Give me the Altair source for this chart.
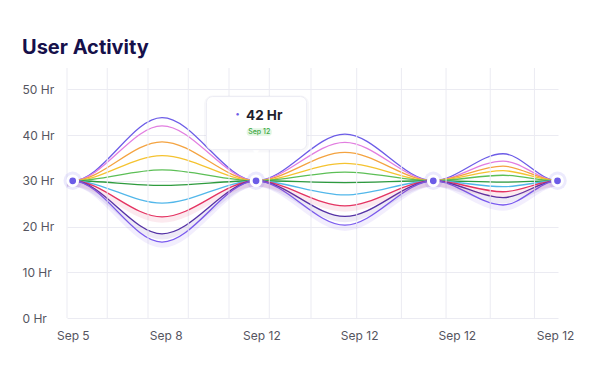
import altair as alt
import pandas as pd

# ---- data ----
# timeline positions: plot edge, the 7 readings, plot edge
x_pos = [0, 1.16, 19.35, 38.5, 56.6, 74.6, 88.8, 99.9, 100]
series_names = ["S1", "S2", "S3", "S4", "S5", "S6", "S7", "S8", "S9", "S10"]
s1 = [30, 30, 43.8, 30, 40.2, 30, 35.9, 30, 30]
s2 = [30, 30, 42.0, 30, 38.4, 30, 34.3, 30, 30]
s3 = [30, 30, 38.5, 30, 36.2, 30, 33.2, 30, 30]
s4 = [30, 30, 35.5, 30, 33.8, 30, 32.2, 30, 30]
s5 = [30, 30, 32.4, 30, 31.9, 30, 31.2, 30, 30]
s6 = [30, 30, 29.0, 30, 29.6, 30, 29.7, 30, 30]
s7 = [30, 30, 25.1, 30, 26.9, 30, 28.7, 30, 30]
s8 = [30, 30, 22.1, 30, 24.5, 30, 27.6, 30, 30]
s9 = [30, 30, 18.4, 30, 22.2, 30, 26.3, 30, 30]
s10 = [30, 30, 16.6, 30, 20.3, 30, 24.7, 30, 30]
series_values = [s1, s2, s3, s4, s5, s6, s7, s8, s9, s10]
series_colors = ["#6c5ce7", "#e27ee0", "#f4a340", "#f5c330", "#5cbf56",
                 "#2e9b3e", "#52b7ea", "#e53563", "#5533a6", "#7b5cf0"]
glow_series = ["S8", "S9", "S10"]

join_index = [1, 3, 5, 7]                 # where all series meet (dots)
tick_pos = [1.18, 20.1, 39.6, 59.5, 79.4, 99.4]
tick_labels = ["Sep 5", "Sep 8", "Sep 12", "Sep 12", "Sep 12", "Sep 12"]
grid_x = [0, 8.2, 16.5, 24.7, 33.0, 41.2, 49.7, 59.0, 68.1, 77.2, 86.2, 95.2]
y_ticks = [0, 10, 20, 30, 40, 50]

tip_value = "42 Hr"
tip_date = "Sep 12"
tip_box = {"x0": 28.4, "x1": 48.8, "y0": 36.8, "y1": 48.4}
tip_pill = {"x0": 36.6, "x1": 41.7, "y0": 39.8, "y1": 41.5}
tip_anchor = 3

# ---- tables ----
rows = []
for name, vals in zip(series_names, series_values):
    for xv, v in zip(x_pos, vals):
        rows.append({"series": name, "x": xv, "hours": v})
df = pd.DataFrame(rows)
dots = pd.DataFrame({"x": [x_pos[i] for i in join_index],
                     "hours": [s1[i] for i in join_index]})
grid_df = pd.DataFrame({"x": grid_x})
box_df = pd.DataFrame([tip_box])
shadow_df = pd.DataFrame([{"x0": tip_box["x0"] - 0.5, "x1": tip_box["x1"] + 0.5,
                           "y0": tip_box["y0"] - 0.6, "y1": tip_box["y1"] + 0.3}])
pill_df = pd.DataFrame([dict(tip_pill, label=tip_date,
                             cx=(tip_pill["x0"] + tip_pill["x1"]) / 2,
                             cy=(tip_pill["y0"] + tip_pill["y1"]) / 2)])
anchor_df = pd.DataFrame({"x": [x_pos[tip_anchor]], "hours": [s1[tip_anchor]],
                          "label": [tip_value]})

GRID = "#ebebf2"
FONT = "Inter"
xs = alt.Scale(domain=[0, 100], nice=False, zero=False)
ys = alt.Scale(domain=[0, 54.65], nice=False)

label_expr = "[" + ",".join(f"'{l}'" for l in tick_labels) + "][indexof([" + \
    ",".join(str(t) for t in tick_pos) + "], datum.value)]"

xaxis = alt.Axis(values=tick_pos, labelExpr=label_expr, grid=False, domain=False,
                 ticks=False, labelPadding=12, labelFontSize=12, labelColor="#555560",
                 labelFont=FONT, labelFlush=False, labelOverlap=False, title=None)
yaxis = alt.Axis(values=y_ticks, labelExpr="datum.value + ' Hr'", grid=True,
                 gridColor=GRID, gridWidth=1, domain=False, ticks=False,
                 labelAlign="left", labelPadding=45, labelFontSize=12,
                 labelColor="#555560", labelFont=FONT, title=None)

color_scale = alt.Scale(domain=series_names, range=series_colors)


def X(field):
    return alt.X(field, scale=xs, title=None)


def Y(field):
    return alt.Y(field, scale=ys, title=None)


lines = alt.Chart(df).mark_line(interpolate="monotone", strokeWidth=1.3).encode(
    x=alt.X("x:Q", scale=xs, axis=xaxis),
    y=alt.Y("hours:Q", scale=ys, axis=yaxis),
    color=alt.Color("series:N", scale=color_scale, legend=None),
    detail="series:N")

vgrid = alt.Chart(grid_df).mark_rule(color=GRID, strokeWidth=1).encode(x=X("x:Q"))

glow = alt.Chart(df).transform_filter(
    alt.FieldOneOfPredicate(field="series", oneOf=glow_series)
).transform_calculate(glow_y="datum.hours - 0.6").mark_line(
    interpolate="monotone", strokeWidth=6, opacity=0.10
).encode(
    x=X("x:Q"), y=Y("glow_y:Q"),
    color=alt.Color("series:N", scale=color_scale, legend=None),
    detail="series:N")

dot_glow = alt.Chart(dots).mark_circle(size=340, color="#8b7cf0", opacity=0.16).encode(
    x=X("x:Q"), y=Y("hours:Q"))
dot = alt.Chart(dots).mark_point(filled=True, size=95, fill="#6c5ce7", stroke="white",
                                 strokeWidth=3, opacity=1).encode(
    x=X("x:Q"), y=Y("hours:Q"))

box_shadow = alt.Chart(shadow_df).mark_rect(cornerRadius=9, fill="#5a5a8a", opacity=0.045).encode(
    x=X("x0:Q"), x2=alt.X2("x1:Q"), y=Y("y0:Q"), y2=alt.Y2("y1:Q"))
box = alt.Chart(box_df).mark_rect(cornerRadius=6, fill="white", stroke="#ececf4",
                                  strokeWidth=1).encode(
    x=X("x0:Q"), x2=alt.X2("x1:Q"), y=Y("y0:Q"), y2=alt.Y2("y1:Q"))
pointer = alt.Chart(anchor_df).mark_text(text="▼", fontSize=10, color="white",
                                         dy=-28, baseline="middle").encode(
    x=X("x:Q"), y=Y("hours:Q"))
value_text = alt.Chart(anchor_df).mark_text(align="left", baseline="alphabetic",
                                            dx=-10, dy=-60.6, fontSize=13.5,
                                            fontWeight=700, font=FONT,
                                            color="#1f1f2e").encode(
    x=X("x:Q"), y=Y("hours:Q"), text="label:N")
value_dot = alt.Chart(anchor_df).mark_text(text="●", fontSize=6, color="#6c5ce7",
                                           dx=-18.5, dy=-67, baseline="middle").encode(
    x=X("x:Q"), y=Y("hours:Q"))
pill = alt.Chart(pill_df).mark_rect(cornerRadius=3, fill="#e4f6e4").encode(
    x=X("x0:Q"), x2=alt.X2("x1:Q"), y=Y("y0:Q"), y2=alt.Y2("y1:Q"))
pill_text = alt.Chart(pill_df).mark_text(fontSize=7, font=FONT, fontWeight=500,
                                         color="#3da845", baseline="middle").encode(
    x=X("cx:Q"), y=Y("cy:Q"), text="label:N")

chart = alt.layer(
    lines, vgrid, glow, dot_glow, dot, box_shadow, box, pointer,
    value_dot, value_text, pill, pill_text
).properties(
    width=491, height=250,
    autosize=alt.AutoSizeParams(type="none"),
    padding={"left": 59, "top": 60, "right": 25, "bottom": 43},
    background="white",
    title=alt.TitleParams(text="User Activity", anchor="start", frame="group",
                          dx=-45, dy=22, offset=16, baseline="alphabetic", fontSize=20,
                          font=FONT, fontWeight=700, color="#16104a"),
).configure_view(stroke=None)

chart.save("out.html", embed_options={"renderer": "svg", "actions": False})
